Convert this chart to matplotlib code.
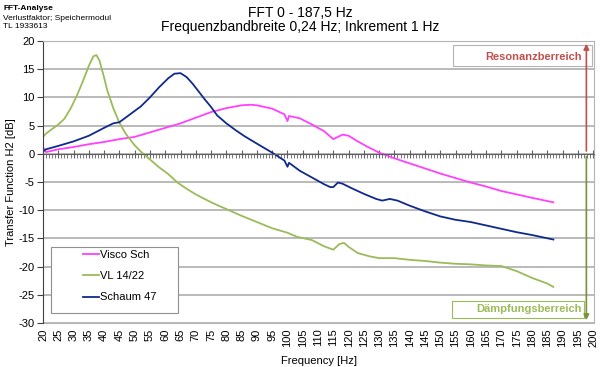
import matplotlib
matplotlib.use('Agg')
import matplotlib.pyplot as plt
from matplotlib.patches import Rectangle
from matplotlib.ticker import MultipleLocator

plt.rcParams['font.family'] = ['Liberation Sans', 'DejaVu Sans']

# Visco Sch
visco_f = [20, 21, 25, 30, 35, 40, 45, 50, 55, 60, 65, 70, 75, 80, 85, 88, 90, 95, 99, 100, 100.5,
           104, 108, 112, 115, 118, 120, 123, 126, 130, 135, 140, 145, 150, 155, 160, 165, 170,
           175, 180, 187]
visco_db = [1.2, 0.3, 0.8, 1.2, 1.7, 2.1, 2.6, 3.0, 3.8, 4.6, 5.4, 6.4, 7.4, 8.1, 8.6, 8.7, 8.6, 8.0,
            7.0, 5.8, 6.7, 6.3, 5.2, 4.0, 2.6, 3.4, 3.2, 2.2, 1.3, 0.2, -0.8, -1.7, -2.6, -3.5, -4.3,
            -5.1, -5.8, -6.6, -7.2, -7.8, -8.6]

# VL 14/22
vl_f = [20, 21, 23, 25, 27, 29, 31, 33, 35, 36.5, 37.5, 38.5, 40, 41, 43, 45, 47, 50, 52, 55, 58,
        61, 64, 67, 70, 75, 80, 85, 90, 95, 100, 103, 108, 112, 115, 117, 118.5, 120, 123, 127,
        130, 135, 140, 145, 150, 155, 160, 165, 170, 175, 180, 185, 187]
vl_db = [3.0, 3.6, 4.4, 5.2, 6.2, 8.0, 10.2, 12.8, 15.6, 17.3, 17.5, 16.5, 13.5, 11.3, 8.1, 5.5,
         3.6, 1.5, 0.4, -1.0, -2.4, -3.6, -5.1, -6.2, -7.2, -8.6, -9.8, -11.0, -12.1, -13.2, -14.0,
         -14.7, -15.3, -16.4, -17.0, -16.0, -15.8, -16.5, -17.6, -18.2, -18.5, -18.5, -18.8,
         -19.0, -19.3, -19.5, -19.6, -19.8, -19.9, -20.8, -22.0, -23.0, -23.6]

# Schaum 47
schaum_f = [20, 21, 25, 30, 35, 40, 43, 45, 48, 52, 55, 58, 61, 63, 65, 67, 69, 71, 73, 75, 77, 80,
            83, 86, 90, 95, 99, 100, 100.5, 104, 108, 112, 114, 115, 116.5, 118, 121, 125, 129,
            131, 133.5, 136, 140, 145, 150, 155, 160, 165, 170, 175, 180, 187]
schaum_db = [0.4, 0.8, 1.4, 2.2, 3.2, 4.6, 5.4, 5.6, 6.8, 8.4, 10.0, 11.8, 13.4, 14.2, 14.3, 13.6,
             12.4, 11.0, 9.6, 8.3, 6.8, 5.4, 4.2, 3.1, 1.8, 0.2, -1.2, -2.3, -1.6, -3.0, -4.2,
             -5.4, -5.9, -5.9, -5.1, -5.3, -6.1, -7.1, -8.0, -8.3, -8.0, -8.3, -9.2, -10.2, -11.1,
             -11.7, -12.1, -12.7, -13.3, -13.9, -14.4, -15.2]

x_ticks = list(range(20, 201, 5))
y_ticks = list(range(-30, 21, 5))

fig = plt.figure(figsize=(6, 3.67), dpi=100)
ax = fig.add_axes([43 / 600, 1 - 323 / 367, 551 / 600, 282 / 367])

for y in y_ticks:
    ax.axhline(y, color='#b4b4b4', lw=1.3, zorder=0)

ax.plot(visco_f, visco_db, color='#ff40ff', lw=1.3, label='Visco Sch')
ax.plot(vl_f, vl_db, color='#9bbb59', lw=1.3, label='VL 14/22')
ax.plot(schaum_f, schaum_db, color='#0f2a8c', lw=1.3, label='Schaum 47')

ax.set_xlim(20, 200.3)
ax.set_ylim(-30, 20)

# x axis line crossing at 0, labels at the bottom
ax.spines['bottom'].set_position(('data', 0))
ax.spines['bottom'].set_color('#606060')
ax.spines['top'].set_color('#b4b4b4')
ax.spines['right'].set_color('#b4b4b4')
ax.spines['left'].set_color('#404040')
ax.xaxis.set_major_locator(MultipleLocator(5))
ax.xaxis.set_minor_locator(MultipleLocator(1))
ax.tick_params(axis='x', which='major', direction='inout', length=6, color='#606060', labelbottom=False)
ax.tick_params(axis='x', which='minor', direction='out', length=3, color='#606060')

sec = ax.secondary_xaxis('bottom')
sec.set_xticks(x_ticks)
sec.set_xticklabels([str(v) for v in x_ticks], rotation=90, fontsize=8)
sec.tick_params(length=0, pad=4)
sec.spines['bottom'].set_color('#b4b4b4')
sec.set_xlabel('Frequency [Hz]', fontsize=8, labelpad=6)

ax.set_yticks(y_ticks)
ax.set_yticklabels([str(v) for v in y_ticks], fontsize=8)
ax.tick_params(axis='y', direction='out', length=4, color='#404040', pad=2)
ax.set_ylabel('Transfer Function H2 [dB]', fontsize=8, labelpad=2)

# legend box
ax.add_patch(Rectangle((0.0145, 0.0355), 0.2305, 0.234, transform=ax.transAxes, fc='white',
                       ec='#909090', lw=0.8, zorder=3))
leg = ax.legend(loc='upper left', bbox_to_anchor=(0.072, 0.258), fontsize=8, frameon=False,
                handlelength=1.5, handletextpad=0.1, borderpad=0, labelspacing=1.0,
                borderaxespad=0)
leg.set_zorder(4)

# range arrows and labels
ax.add_patch(Rectangle((0.744, 0.911), 0.252, 0.075, transform=ax.transAxes, fc='white',
                       ec='#b4b4b4', lw=0.8, zorder=3))
ax.add_patch(Rectangle((0.742, 0.018), 0.240, 0.060, transform=ax.transAxes, fc='white',
                       ec='#9bbb59', lw=0.8, zorder=3))
ax.annotate('', xy=(197.8, 20), xytext=(197.8, 0), zorder=5,
            arrowprops=dict(arrowstyle='-|>', color='#c0504d', lw=1.2, mutation_scale=8))
ax.annotate('', xy=(197.8, -30), xytext=(197.8, 0), zorder=5,
            arrowprops=dict(arrowstyle='-|>', color='#77933c', lw=1.2, mutation_scale=8))
ax.text(196.4, 17.1, 'Resonanzberreich', ha='right', va='center', fontsize=8, fontweight='bold',
        color='#c0504d', zorder=4)
ax.text(196.4, -27.5, 'Dämpfungsberreich', ha='right', va='center', fontsize=8, fontweight='bold',
        color='#9bbb59', zorder=4)

fig.text(0.5, 1 - 13 / 367, 'FFT 0 - 187,5 Hz', ha='center', va='center', fontsize=10)
fig.text(0.5, 1 - 27 / 367, 'Frequenzbandbreite 0,24 Hz; Inkrement 1 Hz', ha='center',
         va='center', fontsize=10)
fig.text(3 / 600, 1 - 9 / 367, 'FFT-Analyse', ha='left', va='center', fontsize=6, fontweight='bold')
fig.text(3 / 600, 1 - 18 / 367, 'Verlustfaktor; Speichermodul', ha='left', va='center', fontsize=6)
fig.text(3 / 600, 1 - 26 / 367, 'TL 1933613', ha='left', va='center', fontsize=6)

fig.savefig('out.png', dpi=100)
